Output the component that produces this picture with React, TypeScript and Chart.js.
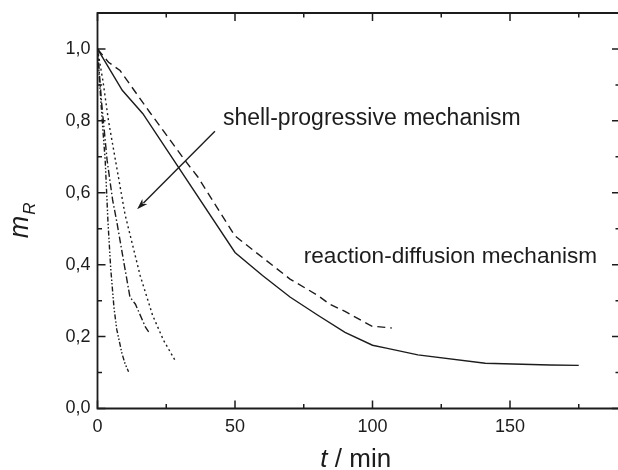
import React, { useEffect, useRef } from "react";
import { Chart, registerables } from "chart.js";
Chart.register(...registerables);

// Reaction-diffusion sample (solid)
const solidT = [0, 9, 16.5, 50, 60, 70, 80, 90, 100, 105, 116.5, 141, 164.5, 175];
const solidM = [1.0, 0.885, 0.82, 0.434, 0.37, 0.31, 0.26, 0.212, 0.176, 0.168, 0.149, 0.126, 0.121, 0.12];
// Reaction-diffusion sample (dashed)
const dashT = [0, 4, 8.2, 19, 31.8, 36.5, 50, 60, 70, 80, 84.5, 90, 99.7, 107];
const dashM = [1.0, 0.963, 0.94, 0.824, 0.69, 0.644, 0.48, 0.42, 0.36, 0.315, 0.29, 0.27, 0.229, 0.224];
// Shell-progressive samples
const dotT = [0, 2, 4, 7, 10, 15.5, 20, 24, 28.5];
const dotM = [1.0, 0.91, 0.8, 0.67, 0.54, 0.37, 0.26, 0.19, 0.13];
const dashDotT = [0, 1.5, 3.5, 5.5, 7, 9.5, 11.8, 13.8, 17.4, 18.6];
const dashDotM = [1.0, 0.85, 0.69, 0.58, 0.52, 0.41, 0.31, 0.29, 0.227, 0.213];
const dashDotDotT = [0, 1, 2, 2.8, 3.8, 4.8, 6, 7, 8.9, 10, 11.3];
const dashDotDotM = [1.0, 0.88, 0.77, 0.69, 0.52, 0.39, 0.28, 0.22, 0.153, 0.125, 0.102];

// Axis ticks
const xMajor = [0, 50, 100, 150];
const xMinor = [25, 75, 125, 175];
const yMajor = [0, 0.2, 0.4, 0.6, 0.8, 1.0];
const yMinor = [0.1, 0.3, 0.5, 0.7, 0.9];
const xRange = [0, 190];
const yRange = [0, 1.1];

// Annotations (data coordinates)
const label1 = { text: "shell-progressive mechanism", t: 45.6, m: 0.7875 };
const label2 = { text: "reaction-diffusion mechanism", t: 75, m: 0.404 };
const arrowFrom = { t: 42.7, m: 0.771 };
const arrowTo = { t: 14.4, m: 0.554 };

const FONT = "'Liberation Sans', Arial, Helvetica, sans-serif";
const INK = "#1c1c1c";

const pts = (t: number[], m: number[]) => t.map((v, i) => ({ x: v, y: m[i] }));

const framePlugin = {
  id: "frame",
  afterDraw(chart: any) {
    const { ctx, chartArea: a, scales } = chart;
    const xs = scales.x, ys = scales.y;
    ctx.save();
    ctx.strokeStyle = INK;
    ctx.lineWidth = 1.8;
    ctx.beginPath();
    ctx.rect(a.left, a.top, a.right - a.left, a.bottom - a.top);
    ctx.stroke();
    ctx.lineWidth = 1.5;
    const tick = (vals: number[], len: number) => {
      for (const v of vals) {
        const px = xs.getPixelForValue(v);
        ctx.beginPath();
        ctx.moveTo(px, a.bottom); ctx.lineTo(px, a.bottom - len);
        ctx.moveTo(px, a.top); ctx.lineTo(px, a.top + len);
        ctx.stroke();
      }
    };
    const tickY = (vals: number[], len: number) => {
      for (const v of vals) {
        const py = ys.getPixelForValue(v);
        ctx.beginPath();
        ctx.moveTo(a.left, py); ctx.lineTo(a.left + len, py);
        ctx.moveTo(a.right, py); ctx.lineTo(a.right - len, py);
        ctx.stroke();
      }
    };
    tick(xMajor, 8); tick(xMinor, 4.5);
    tickY(yMajor, 8); tickY(yMinor, 4.5);

    // annotations
    ctx.fillStyle = INK;
    ctx.textBaseline = "alphabetic";
    ctx.textAlign = "left";
    ctx.font = `23px ${FONT}`;
    ctx.fillText(label1.text, xs.getPixelForValue(label1.t), ys.getPixelForValue(label1.m));
    ctx.font = `22.6px ${FONT}`;
    ctx.fillText(label2.text, xs.getPixelForValue(label2.t), ys.getPixelForValue(label2.m));

    // arrow
    const x1 = xs.getPixelForValue(arrowFrom.t), y1 = ys.getPixelForValue(arrowFrom.m);
    const x2 = xs.getPixelForValue(arrowTo.t), y2 = ys.getPixelForValue(arrowTo.m);
    const ang = Math.atan2(y2 - y1, x2 - x1);
    const hl = 11, hw = 3.6;
    ctx.lineWidth = 1.4;
    ctx.beginPath();
    ctx.moveTo(x1, y1);
    ctx.lineTo(x2 - Math.cos(ang) * (hl - 2), y2 - Math.sin(ang) * (hl - 2));
    ctx.stroke();
    ctx.beginPath();
    ctx.moveTo(x2, y2);
    ctx.lineTo(x2 - Math.cos(ang) * hl - Math.sin(ang) * hw, y2 - Math.sin(ang) * hl + Math.cos(ang) * hw);
    ctx.lineTo(x2 - Math.cos(ang) * (hl - 3), y2 - Math.sin(ang) * (hl - 3));
    ctx.lineTo(x2 - Math.cos(ang) * hl + Math.sin(ang) * hw, y2 - Math.sin(ang) * hl - Math.cos(ang) * hw);
    ctx.closePath();
    ctx.fill();

    // x-axis title
    ctx.textAlign = "left";
    ctx.font = `italic 26px ${FONT}`;
    const tW = ctx.measureText("t").width;
    ctx.font = `26px ${FONT}`;
    const restW = ctx.measureText(" / min").width;
    const startX = (a.left + 618) / 2 - (tW + restW) / 2 - 2;
    const baseY = a.bottom + 58;
    ctx.font = `italic 26px ${FONT}`;
    ctx.fillText("t", startX, baseY);
    ctx.font = `26px ${FONT}`;
    ctx.fillText(" / min", startX + tW, baseY);

    // y-axis title
    ctx.save();
    ctx.translate(a.left - 70, (a.top + a.bottom) / 2 + 10);
    ctx.rotate(-Math.PI / 2);
    ctx.font = `italic 27px ${FONT}`;
    const mW = ctx.measureText("m").width;
    ctx.font = `italic 17px ${FONT}`;
    const rW = ctx.measureText("R").width;
    const sx = -(mW + rW) / 2;
    ctx.font = `italic 27px ${FONT}`;
    ctx.fillText("m", sx, 0);
    ctx.font = `italic 17px ${FONT}`;
    ctx.fillText("R", sx + mW + 1, 7);
    ctx.restore();
    ctx.restore();
  },
};

export default function App() {
  const ref = useRef<HTMLCanvasElement>(null);
  useEffect(() => {
    const canvas = ref.current!;
    const line = (data: any, dash: number[]) => ({
      data,
      borderColor: INK,
      borderWidth: 1.4,
      borderDash: dash,
      pointRadius: 0,
      fill: false,
      tension: 0,
    });
    const chart = new Chart(canvas, {
      type: "line",
      data: {
        datasets: [
          line(pts(solidT, solidM), []),
          line(pts(dashT, dashM), [8, 5]),
          line(pts(dotT, dotM), [2, 3]),
          line(pts(dashDotT, dashDotM), [7, 2.5, 1.5, 2.5]),
          line(pts(dashDotDotT, dashDotDotM), [5, 2, 1.5, 2, 1.5, 2]),
        ],
      },
      options: {
        responsive: false,
        animation: false,
        devicePixelRatio: 1,
        layout: { padding: { left: 0, right: 20, top: 13, bottom: 0 } },
        plugins: { legend: { display: false }, tooltip: { enabled: false } },
        scales: {
          x: {
            type: "linear",
            min: xRange[0],
            max: xRange[1],
            grid: { display: false, drawTicks: false },
            border: { display: false },
            afterBuildTicks: (s: any) => {
              s.ticks = xMajor.map((v) => ({ value: v }));
            },
            afterFit: (s: any) => {
              s.height = 61.5;
              s.paddingLeft = 0;
              s.paddingRight = 0;
            },
            ticks: {
              padding: 8,
              color: INK,
              font: { family: FONT, size: 18 },
              maxRotation: 0,
              autoSkip: false,
              callback: (v: any) => String(v),
            },
          },
          y: {
            type: "linear",
            min: yRange[0],
            max: yRange[1],
            grid: { display: false, drawTicks: false },
            border: { display: false },
            afterBuildTicks: (s: any) => {
              s.ticks = yMajor.map((v) => ({ value: v }));
            },
            afterFit: (s: any) => {
              s.width = 97.5;
              s.paddingTop = 0;
              s.paddingBottom = 0;
            },
            ticks: {
              padding: 7,
              color: INK,
              font: { family: FONT, size: 18 },
              autoSkip: false,
              callback: (v: any) => Number(v).toFixed(1).replace(".", ","),
            },
          },
        },
      } as any,
      plugins: [framePlugin],
    });
    return () => chart.destroy();
  }, []);
  return (
    <div
      style={{
        position: "fixed",
        left: 0,
        top: 0,
        width: 618,
        height: 470,
        overflow: "hidden",
        background: "#fff",
      }}
    >
      <canvas ref={ref} width={640} height={470} style={{ display: "block" }} />
    </div>
  );
}
